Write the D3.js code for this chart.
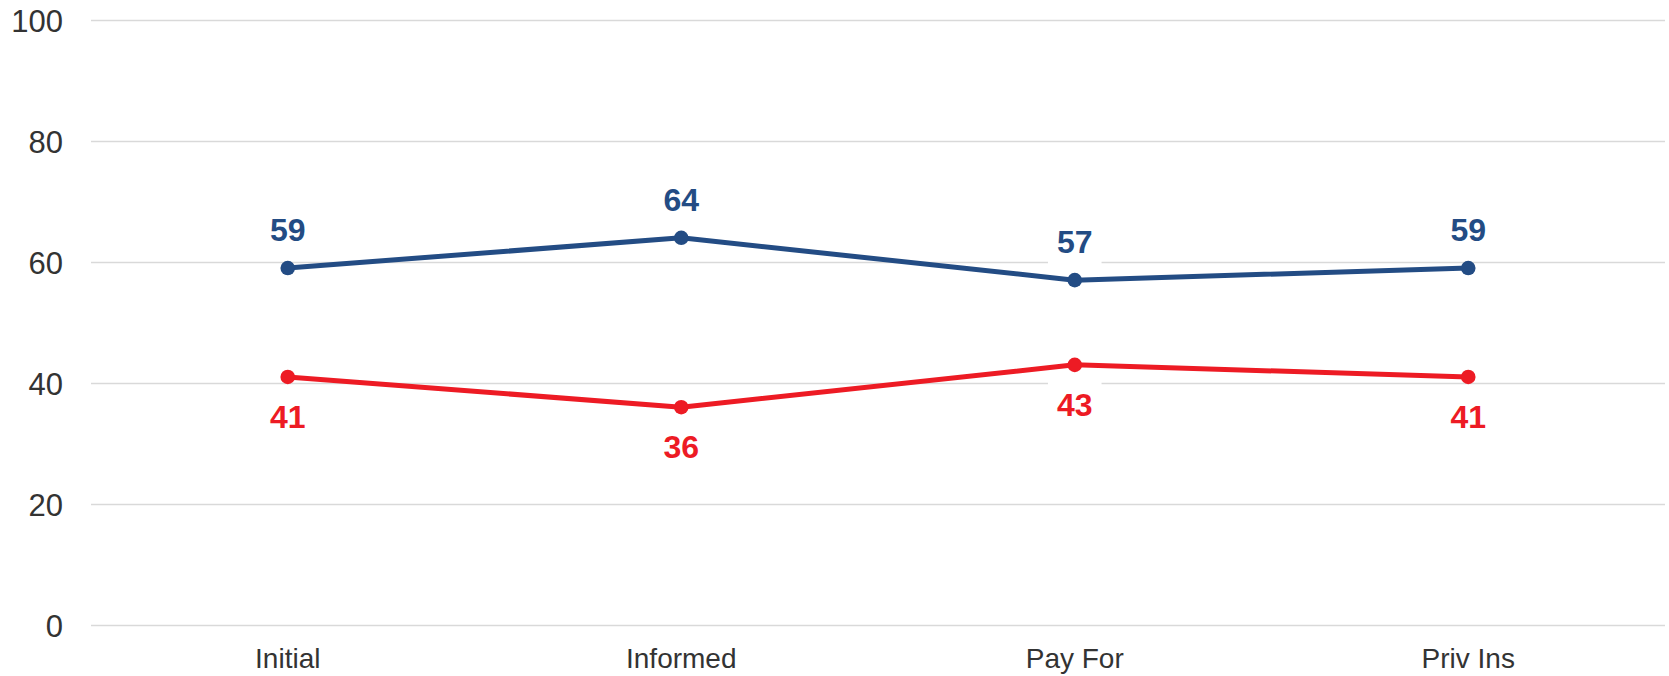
<!DOCTYPE html>
<html>
<head>
<meta charset="utf-8">
<script src="https://cdn.jsdelivr.net/npm/d3@7"></script>
<style>
  html, body { margin: 0; padding: 0; background: #fff; }
  svg { display: block; font-family: "Liberation Sans", Arial, sans-serif; }
</style>
</head>
<body>
<svg id="chart" width="1669" height="676"></svg>
<script>
// Survey stages and the share (%) on each side
const categories = ["Initial", "Informed", "Pay For", "Priv Ins"];
const supportValues = [59, 64, 57, 59];
const opposeValues = [41, 36, 43, 41];
const yTicks = [0, 20, 40, 60, 80, 100];

const series = [
  { name: "support", values: supportValues, color: "#234c84", above: true },
  { name: "oppose", values: opposeValues, color: "#ed1b24", above: false }
];

const W = 1669, H = 676;
const margin = { left: 91, right: 4, top: 20, bottom: 51 };

const svg = d3.select("#chart");

const x = d3.scaleBand()
  .domain(categories)
  .range([margin.left, W - margin.right])
  .padding(0);

const y = d3.scaleLinear()
  .domain([0, 100])
  .range([H - margin.bottom, margin.top]);

// Horizontal gridlines
const yAxis = d3.axisLeft(y)
  .tickValues(yTicks)
  .tickSize(-(W - margin.left - margin.right))
  .tickPadding(28);

const gy = svg.append("g")
  .attr("transform", `translate(${margin.left},0)`)
  .call(yAxis);
gy.select(".domain").remove();
gy.selectAll(".tick line")
  .attr("stroke", "#d9d9d9")
  .attr("stroke-width", 1.6);
gy.selectAll(".tick text")
  .attr("fill", "#333333")
  .attr("font-size", 31)
  .attr("dy", "0.36em")
  .style("font-family", "'Liberation Sans', Arial, sans-serif");

// Category labels
const xAxis = d3.axisBottom(x).tickSize(0).tickPadding(0);
const gx = svg.append("g")
  .attr("transform", `translate(0,${H - margin.bottom})`)
  .call(xAxis);
gx.select(".domain").remove();
gx.selectAll(".tick text")
  .attr("fill", "#333333")
  .attr("font-size", 28)
  .attr("y", 43)
  .attr("dy", 0)
  .style("font-family", "'Liberation Sans', Arial, sans-serif");

const cx = d => x(d) + x.bandwidth() / 2;

// Value labels with white boxes (drawn beneath the lines)
const labelLayer = svg.append("g");
const lineLayer = svg.append("g");

series.forEach(s => {
  const pts = categories.map((c, i) => ({ c, v: s.values[i] }));

  const line = d3.line()
    .x(d => cx(d.c))
    .y(d => y(d.v));

  lineLayer.append("path")
    .datum(pts)
    .attr("fill", "none")
    .attr("stroke", s.color)
    .attr("stroke-width", 5)
    .attr("stroke-linejoin", "round")
    .attr("d", line);

  lineLayer.selectAll(null)
    .data(pts)
    .join("circle")
    .attr("cx", d => cx(d.c))
    .attr("cy", d => y(d.v))
    .attr("r", 7.3)
    .attr("fill", s.color);

  pts.forEach(d => {
    const baseline = s.above ? y(d.v) - 27 : y(d.v) + 51;
    const g = labelLayer.append("g");
    const rect = g.append("rect").attr("fill", "#ffffff");
    const t = g.append("text")
      .attr("x", cx(d.c))
      .attr("y", baseline)
      .attr("text-anchor", "middle")
      .attr("font-size", 32)
      .attr("font-weight", "bold")
      .attr("fill", s.color)
      .text(d.v);
    const w = t.node().getComputedTextLength();
    rect.attr("x", cx(d.c) - w / 2 - 9)
      .attr("y", baseline - 23 - 13)
      .attr("width", w + 18)
      .attr("height", 23 + 26);
  });
});
</script>
</body>
</html>
